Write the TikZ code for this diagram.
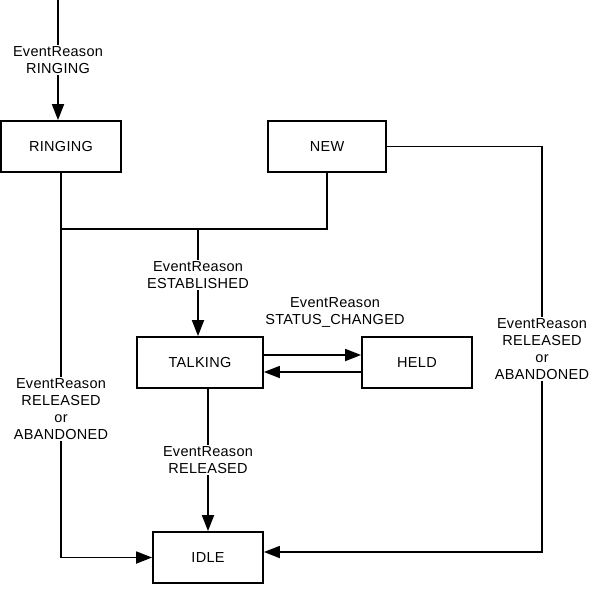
\documentclass[tikz,border=0pt]{standalone}
\usepackage{fontspec}
\setmainfont{Liberation Sans}[LetterSpace=2]
\usepackage{tikz}
\usetikzlibrary{arrows.meta,automata}

\begin{document}
\begin{tikzpicture}[->,>={Triangle[length=16pt,width=12pt]},x=1pt,y=-1pt,
                    line width=1.8pt,font=\fontsize{14.5}{17}\selectfont]

  \tikzstyle{every state}=[rectangle,draw,minimum height=51pt,inner sep=0pt,line width=1.8pt]
  \tikzstyle{reason}=[fill=white,align=center,inner sep=1.5pt]

  \useasboundingbox (0,0) rectangle (590,600);

  \node[state,minimum width=120pt] (RINGING) at (61,146.5) {RINGING};  \node[state,minimum width=118pt] (NEW) at (327,146.5) {NEW};

  \node[state,minimum width=126pt] (TALKING) at (200,362.5) {TALKING}; \node[state,minimum width=110pt] (HELD) at (417,362.5) {HELD};

  \node[state,minimum width=110pt] (IDLE) at (208,557.5) {IDLE};

  \coordinate (start) at (58,0);
  \coordinate (join) at (198,229);
  \coordinate (corner) at (542,146.5);

  \draw (start) -- node[reason] {EventReason\\RINGING} (start |- RINGING.north);

  \draw[-] (NEW.south) |- (join) -- (RINGING.south |- join);
  \draw (join) -- node[reason,pos=.43] {EventReason\\ESTABLISHED} (join |- TALKING.north);

  \draw ([yshift=7.5pt]TALKING.east) -- ([yshift=7.5pt]HELD.west);
  \draw ([yshift=-9.5pt]HELD.west) -- ([yshift=-9.5pt]TALKING.east);
  \node[reason] (STATUS) at (335,312.5) {EventReason\\STATUS\_CHANGED};

  \draw (IDLE.north |- TALKING.south) -- node[reason,pos=.5] {EventReason\\RELEASED} (IDLE.north);

  \draw (RINGING.south) -- node[reason,pos=.615] {EventReason\\RELEASED\\or\\ABANDONED} (RINGING.south |- IDLE.west) -- (IDLE.west);

  \draw (NEW.east) -- (corner) -- node[reason,pos=.5] {EventReason\\RELEASED\\or\\ABANDONED} (corner |- 0,552) -- ([yshift=5.5pt]IDLE.east);

\end{tikzpicture}
\end{document}
